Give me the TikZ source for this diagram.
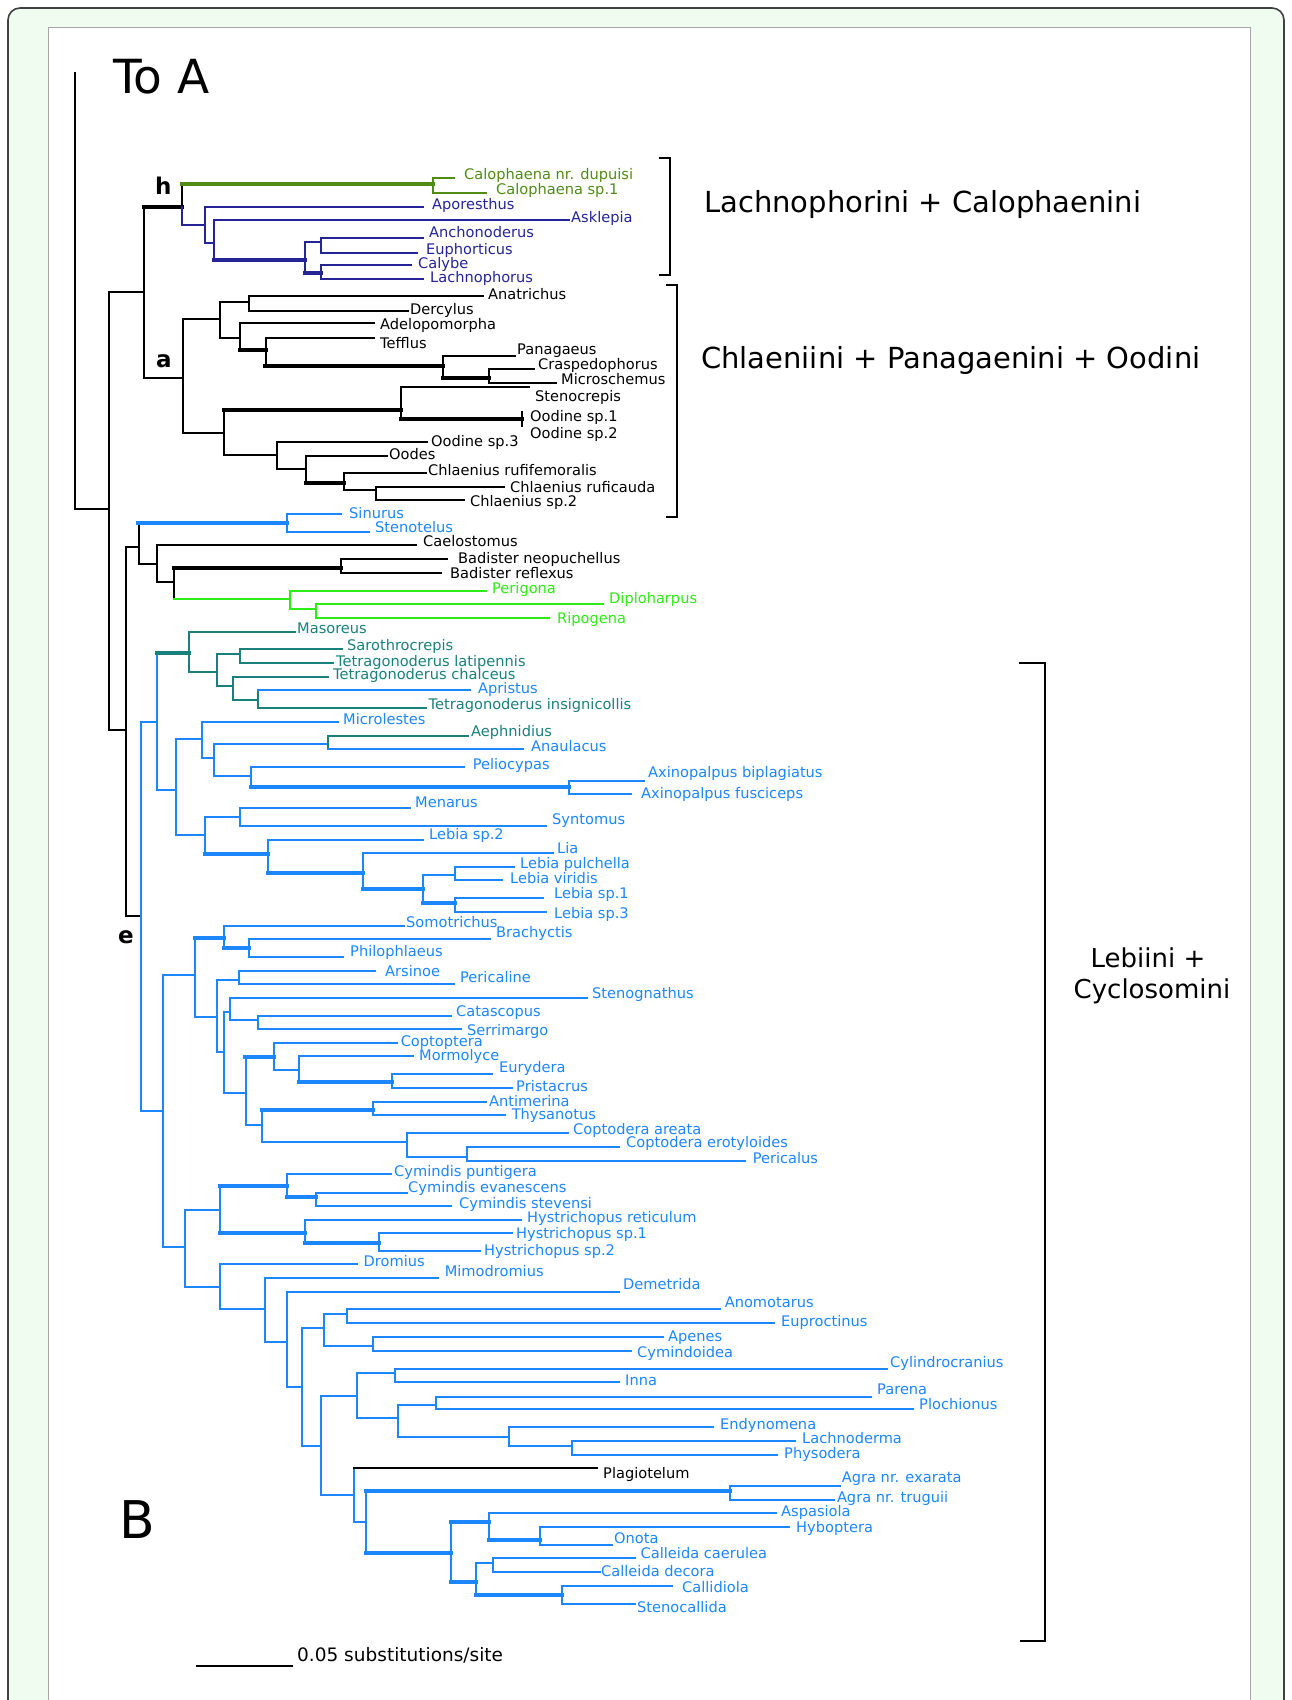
\documentclass[tikz,border=0pt]{standalone}
\usepackage{fontspec}
\setmainfont{DejaVu Sans}
\definecolor{cb}{RGB}{28,134,255}
\definecolor{cn}{RGB}{36,36,150}
\definecolor{cg}{RGB}{80,140,20}
\definecolor{cl}{RGB}{45,235,20}
\definecolor{ct}{RGB}{25,128,125}
\definecolor{mint}{RGB}{239,252,239}
\newcommand\nd[3]{\coordinate (#1) at (#2,#3);}
\newcommand\tip[7][black]{\coordinate (#2) at (#3,#4);\node[lab,text=#1] (#2-l) at (#5,#6) {#7};}
\newcommand\hb[3][]{\draw[br,#1] (#2|-#3) -- (#3);}
\newcommand\vb[4][]{\draw[br,#1] (#2|-#3) -- (#2|-#4);}
\newcommand\cl[4][]{\vb[#1]{#2}{#3}{#4}\hb[#1]{#2}{#3}\hb[#1]{#2}{#4}}
\begin{document}
\begin{tikzpicture}[x=1pt,y=-1pt,
  br/.style={line width=2pt,line cap=rect},
  tk/.style={line width=4.5pt,line cap=rect},
  lab/.style={anchor=base west,inner sep=0pt,font=\fontsize{14.6}{16}\selectfont},
  ttl/.style={anchor=base west,inner sep=0pt,font=\fontsize{29}{32}\selectfont},
  ltr/.style={anchor=base west,inner sep=0pt,font=\bfseries\fontsize{23}{23}\selectfont},
  brk/.style={line width=2.2pt}]
\useasboundingbox (0,0) rectangle (1291,1700);
\fill[white] (0,0) rectangle (1291,1700);
\draw[fill=mint,draw=black!75,line width=1.6pt,rounded corners=12pt] (8,8) rectangle (1284,1740);
\draw[fill=white,draw=black!35,line width=0.8pt] (48,27) rectangle (1250,1740);
% titles
\node[anchor=base west,inner sep=0pt,font=\fontsize{47}{47}\selectfont] (toA) at (113,93) {To A};
\node[anchor=base west,inner sep=0pt,font=\fontsize{52}{52}\selectfont] (labB) at (119,1538) {B};
\node[ttl] (t1) at (704,212) {Lachnophorini + Calophaenini};
\node[ttl] (t2) at (701,368) {Chlaeniini + Panagaenini + Oodini};
\node[anchor=base,inner sep=0pt,font=\fontsize{26}{26}\selectfont] (t3) at (1148,967) {Lebiini +};
\node[anchor=base,inner sep=0pt,font=\fontsize{26}{26}\selectfont] (t4) at (1152,998) {Cyclosomini};
\node[ltr] (lh) at (155,194) {h};
\node[ltr] (la) at (156,367) {a};
\node[ltr] (le) at (118,943) {e};
% brackets
\draw[brk] (659,158) -- (670,158) -- (670,275) -- (659,275);
\draw[brk] (666,285) -- (677,285) -- (677,517) -- (666,517);
\draw[brk] (1019,663) -- (1045,663) -- (1045,1641) -- (1020,1641);
% scale bar
\coordinate (sb1) at (196,1666); \coordinate (sb2) at (293,1666);
\draw[line width=1.5pt] (sb1) -- (sb2);
\node[anchor=base west,inner sep=0pt,font=\fontsize{18.5}{18.5}\selectfont] (sbl) at (297,1661) {0.05 substitutions/site};
% root
\coordinate (rtop) at (75,73);
\nd{R}{75}{509}
\nd{N1}{109}{509}
\draw[br] (rtop) -- (R) -- (N1);
\nd{N2}{144}{292} \nd{N3}{126}{730}
\cl{N1}{N2}{N3}
% h clade
\nd{Nh}{182}{207} \nd{A0}{182.5}{378}
\cl{N2}{Nh}{A0} \hb[tk]{N2}{Nh}
\nd{C0}{433}{184} \nd{B1}{205}{225}
\vb{Nh}{C0}{Nh} \vb[cn]{Nh}{Nh}{B1}
\hb[tk,cg]{Nh}{C0} \hb[cn]{Nh}{B1}
\tip[cg]{Cdup}{454}{178}{464}{179}{Calophaena nr. dupuisi}
\tip[cg]{Csp}{486}{193}{496}{194}{Calophaena sp.1}
\cl[cg]{C0}{Cdup}{Csp}
\nd{B2}{214}{243}
\tip[cn]{Apor}{423}{207}{432}{209}{Aporesthus}
\cl[cn]{B1}{Apor}{B2}
\tip[cn]{Askl}{569}{220}{571}{222}{Asklepia}
\nd{B3}{305}{260}
\cl[cn]{B2}{Askl}{B3} \hb[tk,cn]{B2}{B3}
\nd{B4}{321}{242} \nd{B5}{321}{273}
\cl[cn]{B3}{B4}{B5} \hb[tk,cn]{B3}{B5}
\tip[cn]{Anch}{423}{238}{429}{237}{Anchonoderus}
\tip[cn]{Euph}{417}{253}{426}{254}{Euphorticus}
\cl[cn]{B4}{Anch}{Euph}
\tip[cn]{Caly}{411}{265}{418}{268}{Calybe}
\tip[cn]{Lach}{423}{279}{430}{282}{Lachnophorus}
\cl[cn]{B5}{Caly}{Lach}
% a clade
\nd{A1}{220}{319} \nd{A7}{224}{433}
\cl{A0}{A1}{A7}
\nd{A2}{249}{302} \nd{A3}{240}{338}
\cl{A1}{A2}{A3}
\tip{Anat}{483}{296}{488}{299}{Anatrichus}
\tip{Derc}{408}{311}{410}{314}{Dercylus}
\cl{A2}{Anat}{Derc}
\tip{Adel}{374}{323}{380}{329}{Adelopomorpha}
\nd{A4}{265.5}{350}
\cl{A3}{Adel}{A4} \hb[tk]{A3}{A4}
\tip{Teff}{374}{338}{380}{348}{Tefflus}
\nd{A5}{443}{366}
\cl{A4}{Teff}{A5} \hb[tk]{A4}{A5}
\tip{Pana}{515}{356}{517}{354}{Panagaeus}
\nd{A6}{489}{378}
\cl{A5}{Pana}{A6} \hb[tk]{A5}{A6}
\tip{Cras}{534}{369}{538}{369}{Craspedophorus}
\tip{Micr}{556}{383}{561}{384}{Microschemus}
\cl{A6}{Cras}{Micr}
\nd{A8}{401}{410} \nd{A9}{277}{455}
\cl{A7}{A8}{A9} \hb[tk]{A7}{A8}
\tip{Stcr}{529}{387}{535}{401}{Stenocrepis}
\nd{A10}{522}{419}
\cl{A8}{Stcr}{A10} \hb[tk]{A8}{A10}
\coordinate (Oo1) at (522,412); \coordinate (Oo2) at (522,426);
\draw[br] (Oo1) -- (Oo2);
\node[lab] (Oo1-l) at (530,421) {Oodine sp.1};
\node[lab] (Oo2-l) at (530,438) {Oodine sp.2};
\tip{Ood3}{427}{442}{431}{446}{Oodine sp.3}
\nd{A11}{306}{469}
\cl{A9}{Ood3}{A11}
\tip{Oode}{387}{456}{389}{459}{Oodes}
\nd{A12}{344}{483}
\cl{A11}{Oode}{A12} \hb[tk]{A11}{A12}
\tip{Crfe}{425.5}{473}{428}{475}{Chlaenius rufifemoralis}
\nd{A13}{376}{490}
\cl{A12}{Crfe}{A13}
\tip{Crca}{504}{487}{510}{492}{Chlaenius ruficauda}
\tip{Csp2}{464}{500}{470}{506}{Chlaenius sp.2}
\cl{A13}{Crca}{Csp2}
% N3 part
\nd{N4}{138.5}{547} \nd{E}{141}{916}
\cl{N3}{N4}{E}
\nd{N5}{287}{523} \nd{N6}{157}{564}
\cl{N4}{N5}{N6} \hb[tk,cb]{N4}{N5}
\tip[cb]{Sinu}{341}{514}{349}{518}{Sinurus}
\tip[cb]{Stel}{369}{532}{375}{532}{Stenotelus}
\cl[cb]{N5}{Sinu}{Stel}
\tip{Cael}{416}{545}{423}{546}{Caelostomus}
\nd{N7}{174}{582}
\cl{N6}{Cael}{N7}
\nd{N8}{341}{568} \nd{N9}{290}{599}
\vb{N7}{N8}{N9} \hb[tk]{N7}{N8} \hb[cl]{N7}{N9}
\tip{Bneo}{447}{559}{458}{563}{Badister neopuchellus}
\tip{Bref}{441}{573}{450}{578}{Badister reflexus}
\cl{N8}{Bneo}{Bref}
\tip[cl]{Peri}{486}{591}{492}{593}{Perigona}
\nd{N10}{316}{609}
\cl[cl]{N9}{Peri}{N10}
\tip[cl]{Dipl}{603}{604}{609}{603}{Diploharpus}
\tip[cl]{Ripo}{549}{618}{557}{623}{Ripogena}
\cl[cl]{N10}{Dipl}{Ripo}
% E part
\nd{M}{157}{722} \nd{F}{163}{1111}
\cl[cb]{E}{M}{F}
\nd{T0}{189}{653} \nd{L}{176}{790}
\cl[cb]{M}{T0}{L} \hb[tk,ct]{M}{T0}
\tip[ct]{Maso}{295}{632}{297}{633}{Masoreus}
\nd{T1}{217}{672}
\cl[ct]{T0}{Maso}{T1}
\nd{T2}{240}{654} \nd{T3}{233}{686}
\cl[ct]{T1}{T2}{T3}
\tip[ct]{Saro}{342}{649}{347}{650}{Sarothrocrepis}
\tip[ct]{Tlat}{332.5}{663}{336}{666}{Tetragonoderus latipennis}
\cl[ct]{T2}{Saro}{Tlat}
\tip[ct]{Tcha}{328}{677}{333}{679}{Tetragonoderus chalceus}
\nd{T4}{258}{700}
\cl[ct]{T3}{Tcha}{T4}
\tip[cb]{Apri}{469.5}{690}{478}{693}{Apristus}
\tip[ct]{Tins}{425.5}{708}{428.5}{709}{Tetragonoderus insignicollis}
\vb[ct]{T4}{Apri}{Tins} \hb[cb]{T4}{Apri} \hb[ct]{T4}{Tins}
\nd{L1}{201.6}{739} \nd{L2}{205}{835}
\cl[cb]{L}{L1}{L2}
\tip[cb]{Mcrl}{337.5}{722}{343}{724}{Microlestes}
\nd{L3}{214}{758}
\cl[cb]{L1}{Mcrl}{L3}
\nd{L4}{328}{744} \nd{L5}{251}{776}
\cl[cb]{L3}{L4}{L5}
\tip[ct]{Aeph}{467.6}{736}{471}{736}{Aephnidius}
\tip[cb]{Anau}{523}{749}{531}{751}{Anaulacus}
\vb[ct]{L4}{Aeph}{Anau} \hb[ct]{L4}{Aeph} \hb[cb]{L4}{Anau}
\tip[cb]{Peli}{464}{767}{472.6}{769}{Peliocypas}
\nd{L6}{569}{787}
\cl[cb]{L5}{Peli}{L6} \hb[tk,cb]{L5}{L6}
\tip[cb]{Axbi}{644}{781}{648}{777}{Axinopalpus biplagiatus}
\tip[cb]{Axfu}{631}{794}{641}{798}{Axinopalpus fusciceps}
\cl[cb]{L6}{Axbi}{Axfu}
\nd{L7}{240}{817} \nd{L8}{268}{854}
\cl[cb]{L2}{L7}{L8} \hb[tk,cb]{L2}{L8}
\tip[cb]{Mena}{410}{808}{415}{807}{Menarus}
\tip[cb]{Synt}{546}{826}{552}{824}{Syntomus}
\cl[cb]{L7}{Mena}{Synt}
\tip[cb]{Leb2}{423}{840}{429}{839}{Lebia sp.2}
\nd{L9}{363}{873}
\cl[cb]{L8}{Leb2}{L9} \hb[tk,cb]{L8}{L9}
\tip[cb]{Lia}{553}{853}{557}{853}{Lia}
\nd{L10}{423}{889}
\cl[cb]{L9}{Lia}{L10} \hb[tk,cb]{L9}{L10}
\nd{L11}{455}{875} \nd{L12}{455}{903}
\cl[cb]{L10}{L11}{L12} \hb[tk,cb]{L10}{L12}
\tip[cb]{Lpul}{513.5}{867}{520}{868}{Lebia pulchella}
\tip[cb]{Lvir}{502}{880}{510}{883}{Lebia viridis}
\cl[cb]{L11}{Lpul}{Lvir}
\tip[cb]{Leb1}{543}{898}{554}{898}{Lebia sp.1}
\tip[cb]{Leb3}{546}{912}{554}{918}{Lebia sp.3}
\cl[cb]{L12}{Leb1}{Leb3}
% F part
\nd{G}{195}{975} \nd{H}{185}{1247}
\cl[cb]{F}{G}{H}
\nd{G1}{224}{938} \nd{G2}{217}{1017}
\cl[cb]{G}{G1}{G2} \hb[tk,cb]{G}{G1}
\tip[cb]{Somo}{404}{926}{406}{927}{Somotrichus}
\nd{G3}{249}{948}
\cl[cb]{G1}{Somo}{G3} \hb[tk,cb]{G1}{G3}
\tip[cb]{Brac}{489.5}{939}{496}{937}{Brachyctis}
\tip[cb]{Phil}{343}{957}{350}{956}{Philophlaeus}
\cl[cb]{G3}{Brac}{Phil}
\nd{G4}{239}{980} \nd{G5}{224}{1052}
\cl[cb]{G2}{G4}{G5}
\tip[cb]{Arsi}{375}{971}{385}{976}{Arsinoe}
\tip[cb]{Pcal}{454}{984}{460}{982}{Pericaline}
\cl[cb]{G4}{Arsi}{Pcal}
\nd{G6}{229.5}{1012} \nd{G7}{245.6}{1093}
\cl[cb]{G5}{G6}{G7}
\tip[cb]{Stng}{587}{998}{592}{998}{Stenognathus}
\nd{G8}{258}{1020}
\cl[cb]{G6}{Stng}{G8}
\tip[cb]{Cata}{451}{1016}{456}{1016}{Catascopus}
\tip[cb]{Serr}{461}{1029}{467}{1035}{Serrimargo}
\cl[cb]{G8}{Cata}{Serr}
\nd{G9}{273.5}{1057} \nd{G10}{262}{1125}
\cl[cb]{G7}{G9}{G10} \hb[tk,cb]{G7}{G9}
\tip[cb]{Copt}{397}{1043}{400.6}{1046}{Coptoptera}
\nd{G11}{299}{1070}
\cl[cb]{G9}{Copt}{G11}
\tip[cb]{Morm}{413}{1056}{419}{1060}{Mormolyce}
\nd{G12}{392}{1082}
\cl[cb]{G11}{Morm}{G12} \hb[tk,cb]{G11}{G12}
\tip[cb]{Eury}{492}{1074}{499}{1072}{Eurydera}
\tip[cb]{Pris}{511.6}{1088}{516}{1091}{Pristacrus}
\cl[cb]{G12}{Eury}{Pris}
\nd{G13}{372.7}{1110} \nd{G14}{407}{1142}
\cl[cb]{G10}{G13}{G14} \hb[tk,cb]{G10}{G13}
\tip[cb]{Anti}{485.6}{1102}{489}{1106}{Antimerina}
\tip[cb]{Thys}{505}{1115}{511.6}{1119}{Thysanotus}
\cl[cb]{G13}{Anti}{Thys}
\tip[cb]{Care}{568}{1133}{573}{1134}{Coptodera areata}
\nd{G15}{467}{1157}
\cl[cb]{G14}{Care}{G15}
\tip[cb]{Cero}{618.6}{1147}{626}{1147}{Coptodera erotyloides}
\tip[cb]{Perl}{745}{1161}{752.6}{1163}{Pericalus}
\cl[cb]{G15}{Cero}{Perl}
% H part
\nd{H1}{220}{1210} \nd{H2}{220}{1287}
\cl[cb]{H}{H1}{H2}
\nd{H3}{287}{1186} \nd{H4}{305}{1233}
\cl[cb]{H1}{H3}{H4} \hb[tk,cb]{H1}{H3} \hb[tk,cb]{H1}{H4}
\tip[cb]{Cpun}{391}{1174}{394}{1176}{Cymindis puntigera}
\nd{H5}{315.6}{1197}
\cl[cb]{H3}{Cpun}{H5} \hb[tk,cb]{H3}{H5}
\tip[cb]{Ceva}{407}{1193}{408}{1192}{Cymindis evanescens}
\tip[cb]{Cste}{451}{1206}{459}{1208}{Cymindis stevensi}
\cl[cb]{H5}{Ceva}{Cste}
\tip[cb]{Hret}{521}{1220}{527}{1222}{Hystrichopus reticulum}
\nd{H6}{379}{1243}
\cl[cb]{H4}{Hret}{H6} \hb[tk,cb]{H4}{H6}
\tip[cb]{Hsp1}{511.6}{1233}{516}{1238}{Hystrichopus sp.1}
\tip[cb]{Hsp2}{480}{1251}{484}{1255}{Hystrichopus sp.2}
\cl[cb]{H6}{Hsp1}{Hsp2}
\tip[cb]{Drom}{357}{1264}{363.5}{1266}{Dromius}
\nd{H7}{265}{1309}
\cl[cb]{H2}{Drom}{H7}
\tip[cb]{Mimo}{438}{1278}{444.6}{1276}{Mimodromius}
\nd{H8}{287}{1342}
\cl[cb]{H7}{Mimo}{H8}
\tip[cb]{Deme}{618.6}{1292}{623}{1289}{Demetrida}
\nd{H9}{302}{1387}
\cl[cb]{H8}{Deme}{H9}
\nd{H10}{324}{1328} \nd{H11}{321}{1446}
\cl[cb]{H9}{H10}{H11}
\nd{H12}{347}{1314} \nd{H13}{372.7}{1346}
\cl[cb]{H10}{H12}{H13}
\tip[cb]{Anom}{720}{1309}{724.6}{1307}{Anomotarus}
\tip[cb]{Eupr}{773.6}{1323}{781}{1326}{Euproctinus}
\cl[cb]{H12}{Anom}{Eupr}
\tip[cb]{Apen}{662.6}{1337}{668}{1341}{Apenes}
\tip[cb]{Cymo}{631}{1351}{637}{1357}{Cymindoidea}
\cl[cb]{H13}{Apen}{Cymo}
\nd{H14}{356.6}{1396} \nd{H15}{353.5}{1495}
\cl[cb]{H11}{H14}{H15}
\nd{H16}{395}{1373} \nd{H17}{397.5}{1418}
\cl[cb]{H14}{H16}{H17}
\tip[cb]{Cyli}{887}{1369}{890}{1367}{Cylindrocranius}
\tip[cb]{Inna}{618.6}{1382}{625}{1385}{Inna}
\cl[cb]{H16}{Cyli}{Inna}
\nd{H18}{436}{1405} \nd{H19}{508.5}{1437}
\cl[cb]{H17}{H18}{H19}
\tip[cb]{Pare}{871}{1397}{877}{1394}{Parena}
\tip[cb]{Ploc}{912.6}{1409}{919}{1409}{Plochionus}
\cl[cb]{H18}{Pare}{Ploc}
\tip[cb]{Endy}{713}{1427}{720}{1429}{Endynomena}
\nd{H20}{571.6}{1446}
\cl[cb]{H19}{Endy}{H20}
\tip[cb]{Lchd}{795.4}{1441}{802}{1443}{Lachnoderma}
\tip[cb]{Phys}{776.7}{1455}{784}{1458}{Physodera}
\cl[cb]{H20}{Lchd}{Phys}
\tip{Plag}{596.6}{1468}{603}{1478}{Plagiotelum}
\nd{H21}{366}{1522}
\vb[cb]{H15}{Plag}{H21} \hb{H15}{Plag} \hb[cb]{H15}{H21}
\nd{H22}{729.6}{1491} \nd{H23}{451}{1553}
\cl[cb]{H21}{H22}{H23} \hb[tk,cb]{H21}{H22} \hb[tk,cb]{H21}{H23}
\tip[cb]{Agex}{840}{1486}{841.7}{1482}{Agra nr. exarata}
\tip[cb]{Agtr}{834}{1500}{836.8}{1502}{Agra nr. truguii}
\cl[cb]{H22}{Agex}{Agtr}
\nd{H24}{489}{1522} \nd{H25}{476}{1582}
\cl[cb]{H23}{H24}{H25} \hb[tk,cb]{H23}{H24} \hb[tk,cb]{H23}{H25}
\tip[cb]{Aspa}{776}{1513}{781}{1516}{Aspasiola}
\nd{H26}{540}{1540}
\cl[cb]{H24}{Aspa}{H26} \hb[tk,cb]{H24}{H26}
\tip[cb]{Hybo}{789}{1527}{796}{1532}{Hyboptera}
\tip[cb]{Onot}{612}{1545}{614}{1543}{Onota}
\cl[cb]{H26}{Hybo}{Onot}
\nd{H27}{492.5}{1563} \nd{H28}{562}{1595}
\cl[cb]{H25}{H27}{H28} \hb[tk,cb]{H25}{H28}
\tip[cb]{Ccae}{634.7}{1558}{640.5}{1558}{Calleida caerulea}
\tip[cb]{Cdec}{599.5}{1572}{601}{1576}{Calleida decora}
\cl[cb]{H27}{Ccae}{Cdec}
\tip[cb]{Call}{672}{1586}{682}{1592}{Callidiola}
\tip[cb]{Stca}{634.7}{1604}{637}{1612}{Stenocallida}
\cl[cb]{H28}{Call}{Stca}
\end{tikzpicture}
\end{document}
